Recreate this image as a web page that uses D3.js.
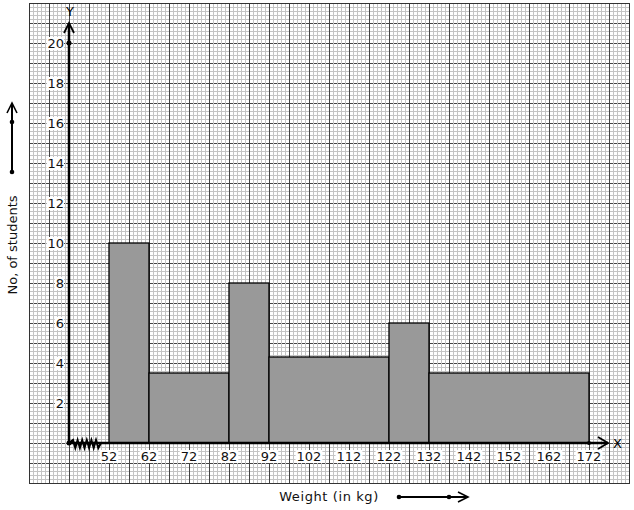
<html lang="en">
<head>
<meta charset="UTF-8">
<title>Histogram</title>
<style>
  body { margin: 0; background: #fff; }
  text { font-family: "DejaVu Sans", sans-serif; }
</style>
</head>
<body>
<script src="https://d3js.org/d3.v7.min.js"></script>
<svg id="chart"></svg>
<script>
    // class intervals and frequencies
    var lowerEdges = [52, 62, 82, 92, 122, 132];
    var upperEdges = [62, 82, 92, 122, 132, 172];
    var students = [10, 3.5, 8, 4.3, 6, 3.5];
    var xTickLabels = [52, 62, 72, 82, 92, 102, 112, 122, 132, 142, 152, 162, 172];
    var yTickLabels = [2, 4, 6, 8, 10, 12, 14, 16, 18, 20];

    var W = 634, H = 510;
    var paper = {left: 29, right: 629, top: 3, bottom: 483};

    var svg = d3.select("#chart").attr("width", W).attr("height", H);

    var x = d3.scaleLinear().domain([42, 172]).range([69, 589]);
    var y = d3.scaleLinear().domain([0, 20]).range([443, 43]);

    // graph paper: minor grid
    var g = svg.append("g");
    for (var px = paper.left; px <= paper.right; px += 4) {
        g.append("line").attr("x1", px).attr("x2", px)
            .attr("y1", paper.top).attr("y2", paper.bottom)
            .attr("stroke", "#c4c4c4").attr("stroke-width", 1)
            .attr("shape-rendering", "crispEdges");
    }
    for (var py = paper.top; py <= paper.bottom; py += 4) {
        g.append("line").attr("x1", paper.left).attr("x2", paper.right)
            .attr("y1", py).attr("y2", py)
            .attr("stroke", "#c4c4c4").attr("stroke-width", 1)
            .attr("shape-rendering", "crispEdges");
    }
    // major grid
    for (var px = paper.left; px <= paper.right; px += 20) {
        g.append("line").attr("x1", px).attr("x2", px)
            .attr("y1", paper.top).attr("y2", paper.bottom)
            .attr("stroke", "#444").attr("stroke-width", 1)
            .attr("shape-rendering", "crispEdges");
    }
    for (var py = paper.top; py <= paper.bottom; py += 20) {
        g.append("line").attr("x1", paper.left + 1).attr("x2", paper.right)
            .attr("y1", py).attr("y2", py)
            .attr("stroke", "#444").attr("stroke-width", 1)
            .attr("stroke-dasharray", "3,1")
            .attr("shape-rendering", "crispEdges");
    }
    g.append("rect").attr("x", paper.left).attr("y", paper.top)
        .attr("width", paper.right - paper.left).attr("height", paper.bottom - paper.top)
        .attr("fill", "none").attr("stroke", "#333").attr("stroke-width", 1)
        .attr("shape-rendering", "crispEdges");

    // bars
    svg.append("g").selectAll("rect")
        .data(students)
        .enter().append("rect")
            .attr("x", (d, i) => x(lowerEdges[i]))
            .attr("y", d => y(d))
            .attr("width", (d, i) => x(upperEdges[i]) - x(lowerEdges[i]))
            .attr("height", d => y(0) - y(d))
            .attr("fill", "#999999")
            .attr("stroke", "#000")
            .attr("stroke-width", 1.3);

    // axes
    var x0 = x(42), y0 = y(0);
    svg.append("line").attr("x1", x0).attr("x2", 608).attr("y1", y0).attr("y2", y0)
        .attr("stroke", "#000").attr("stroke-width", 2.5);
    svg.append("path").attr("d", `M${598},${y0 - 6}L${608},${y0}L${598},${y0 + 6}`)
        .attr("fill", "none").attr("stroke", "#000").attr("stroke-width", 1.8);
    svg.append("line").attr("x1", x0).attr("x2", x0).attr("y1", y0).attr("y2", 23)
        .attr("stroke", "#000").attr("stroke-width", 2.5);
    svg.append("path").attr("d", `M${x0 - 5},${33}L${x0},${23}L${x0 + 5},${33}`)
        .attr("fill", "none").attr("stroke", "#000").attr("stroke-width", 1.8);

    // zigzag break
    var zz = [[x0, y0]];
    for (var k = 0; k < 6; k++) {
        zz.push([73 + k * 4.6, y0 - 3], [75.3 + k * 4.6, y0 + 5]);
    }
    zz.push([101, y0]);
    svg.append("path").attr("d", d3.line()(zz))
        .attr("fill", "none").attr("stroke", "#000").attr("stroke-width", 2);

    svg.append("circle").attr("cx", x0).attr("cy", y0).attr("r", 2.5);
    svg.append("circle").attr("cx", x0).attr("cy", y(20)).attr("r", 2.5);
    svg.append("circle").attr("cx", x(172)).attr("cy", y0).attr("r", 2);

    // tick labels with white boxes
    function boxedText(sel) {
        sel.each(function() {
            var b = this.getBBox();
            d3.select(this.parentNode).insert("rect", function() { return this; }.bind(this))
                .attr("x", b.x - 1).attr("y", b.y + 1)
                .attr("width", b.width + 2).attr("height", b.height - 2)
                .attr("fill", "#fff");
        });
    }
    var yl = svg.append("g").selectAll("g").data(yTickLabels).enter().append("g");
    yl.append("text").attr("x", 64).attr("y", d => y(d) + 5)
        .attr("text-anchor", "end").attr("font-size", 13).attr("fill", "#111")
        .text(d => d);
    yl.select("text").each(function() {
        var b = this.getBBox();
        d3.select(this.parentNode).insert("rect", "text")
            .attr("x", b.x - 1).attr("y", b.y + 1)
            .attr("width", b.width + 1).attr("height", b.height - 2)
            .attr("fill", "#fff");
    });

    var xl = svg.append("g").selectAll("g").data(xTickLabels).enter().append("g");
    xl.append("text").attr("x", d => x(d)).attr("y", 461)
        .attr("text-anchor", "middle").attr("font-size", 13).attr("fill", "#111")
        .text(d => d);
    xl.select("text").each(function() {
        var b = this.getBBox();
        d3.select(this.parentNode).insert("rect", "text")
            .attr("x", b.x - 1).attr("y", b.y + 1)
            .attr("width", b.width + 2).attr("height", b.height - 2)
            .attr("fill", "#fff");
    });

    // axis letters
    var lx = svg.append("text").attr("x", x0 + 1).attr("y", 16).attr("text-anchor", "middle")
        .attr("font-size", 13).text("Y");
    svg.append("text").attr("x", 613).attr("y", 448).attr("font-size", 13).text("X");

    // axis titles
    svg.append("text").attr("transform", "translate(17,245) rotate(-90)")
        .attr("text-anchor", "middle").attr("font-size", 13).attr("fill", "#111")
        .text("No, of students");
    svg.append("text").attr("x", 329).attr("y", 501)
        .attr("text-anchor", "middle").attr("font-size", 13).attr("fill", "#111")
        .attr("letter-spacing", 0.6)
        .text("Weight (in kg)");

    // direction arrows
    svg.append("line").attr("x1", 12).attr("x2", 12).attr("y1", 172).attr("y2", 104)
        .attr("stroke", "#000").attr("stroke-width", 2);
    svg.append("path").attr("d", "M7,113L12,103L17,113")
        .attr("fill", "none").attr("stroke", "#000").attr("stroke-width", 1.6);
    svg.append("circle").attr("cx", 12).attr("cy", 172).attr("r", 2.3);
    svg.append("circle").attr("cx", 12).attr("cy", 122).attr("r", 2.3);

    svg.append("line").attr("x1", 399).attr("x2", 468).attr("y1", 497).attr("y2", 497)
        .attr("stroke", "#000").attr("stroke-width", 2);
    svg.append("path").attr("d", "M458,492L468,497L458,502")
        .attr("fill", "none").attr("stroke", "#000").attr("stroke-width", 1.6);
    svg.append("circle").attr("cx", 399).attr("cy", 497).attr("r", 2.3);
    svg.append("circle").attr("cx", 449).attr("cy", 497).attr("r", 2.3);
</script>
</body>
</html>
